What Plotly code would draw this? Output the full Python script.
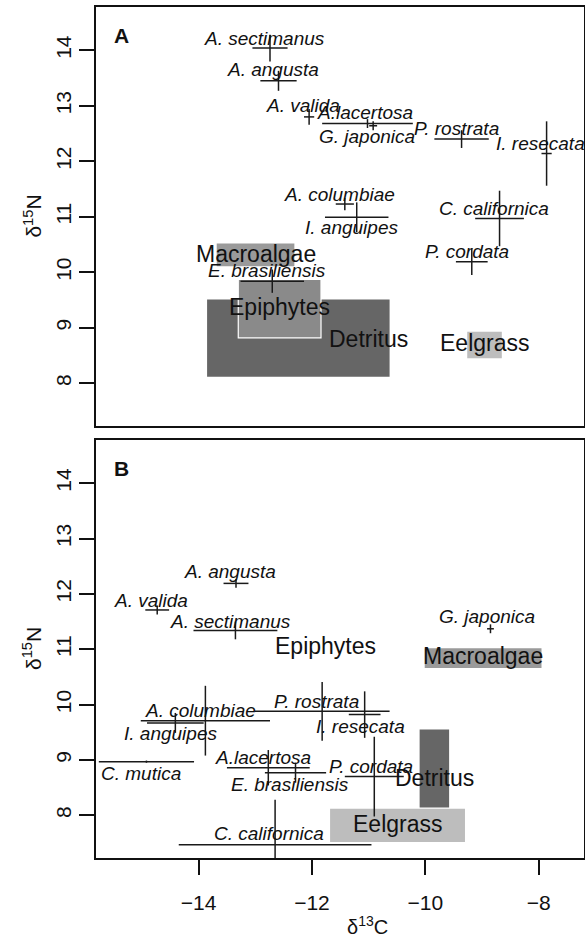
import plotly.graph_objects as go

# ---------------- data ----------------
# Panel A: consumers (mean d13C, sd d13C, mean d15N, sd d15N)
a_species = ["A. sectimanus", "A. angusta", "A. valida", "A.lacertosa", "G. japonica",
             "P. rostrata", "I. resecata", "A. columbiae", "I. anguipes",
             "C. californica", "P. cordata", "E. brasiliensis"]
a_c13 = [-12.74, -12.59, -12.05, -11.02, -10.92, -9.36, -7.86, -11.42, -11.21, -8.69, -9.18, -12.70]
a_c13_sd = [0.31, 0.32, 0.09, 0.80, 0.07, 0.48, 0.09, 0.16, 0.56, 0.43, 0.28, 0.56]
a_n15 = [14.04, 13.45, 12.80, 12.68, 12.64, 12.40, 12.14, 11.23, 10.99, 10.97, 10.19, 9.84]
a_n15_sd = [0.24, 0.18, 0.14, 0.08, 0.08, 0.16, 0.58, 0.11, 0.27, 0.50, 0.24, 0.21]
# label anchor (data coords)
a_lab_x = [-12.84, -12.68, -12.16, -11.07, -11.02, -9.45, -7.96, -11.52, -11.30, -8.78, -9.27, -12.80]
a_lab_y = [14.22, 13.65, 13.00, 12.88, 12.44, 12.59, 12.32, 11.41, 10.80, 11.15, 10.38, 10.03]

# Panel A: sources (ranges)
a_src = ["Macroalgae", "Detritus", "Epiphytes", "Eelgrass"]
a_src_c13_lo = [-13.68, -13.85, -13.30, -9.26]
a_src_c13_hi = [-12.31, -10.63, -11.84, -8.65]
a_src_n15_lo = [10.11, 8.12, 8.82, 8.45]
a_src_n15_hi = [10.52, 9.51, 9.87, 8.93]
a_src_lab_x = [-12.98, -11.00, -12.57, -8.96]
a_src_lab_y = [10.33, 8.79, 9.38, 8.72]

# Panel B: consumers
b_species = ["A. angusta", "A. valida", "A. sectimanus", "G. japonica", "A. columbiae",
             "I. anguipes", "P. rostrata", "I. resecata", "C. mutica", "A.lacertosa",
             "E. brasiliensis", "P. cordata", "C. californica"]
b_c13 = [-13.34, -14.73, -13.35, -8.85, -13.88, -14.41, -11.82, -11.07, -14.92, -12.77, -12.29, -10.90, -12.65]
b_c13_sd = [0.22, 0.21, 0.74, 0.06, 1.14, 0.50, 1.19, 0.28, 0.84, 0.73, 0.54, 0.52, 1.70]
b_n15 = [12.19, 11.71, 11.34, 11.37, 9.71, 9.67, 9.88, 9.82, 8.97, 8.86, 8.77, 8.70, 7.47]
b_n15_sd = [0.08, 0.08, 0.16, 0.08, 0.63, 0.18, 0.53, 0.42, 0.02, 0.32, 0.18, 0.72, 0.81]
b_lab_x = [-13.44, -14.84, -13.44, -8.92, -13.97, -14.50, -11.92, -11.15, -15.01, -12.87, -12.39, -10.96, -12.76]
b_lab_y = [12.40, 11.88, 11.50, 11.60, 9.90, 9.47, 10.06, 9.61, 8.75, 9.04, 8.55, 8.88, 7.67]

# Panel B: sources
b_src = ["Macroalgae", "Detritus", "Eelgrass", "Epiphytes"]
b_src_c13_lo = [-10.01, -10.10, -11.68, None]
b_src_c13_hi = [-7.95, -9.58, -9.30, None]
b_src_n15_lo = [10.66, 8.14, 7.52, None]
b_src_n15_hi = [11.02, 9.55, 8.12, None]
b_src_lab_x = [-8.98, -9.84, -10.49, -11.76]
b_src_lab_y = [10.87, 8.68, 7.84, 11.06]

y_ticks = [8, 9, 10, 11, 12, 13, 14]
x_ticks = [-14, -12, -10, -8]

# ---------------- styles ----------------
FONT = "Liberation Sans, Arial, Helvetica, sans-serif"
src_fill = {"Macroalgae": "#9a9a9a", "Detritus": "#666666", "Epiphytes": "#8a8a8a", "Eelgrass": "#bdbdbd"}
src_line = {"Macroalgae": None, "Detritus": None, "Epiphytes": "white", "Eelgrass": None}
LINE = "#1a1a1a"

fig = go.Figure()
shapes = []
annotations = []


def add_panel(xa, ya, species, c13, c13sd, n15, n15sd, labx, laby,
              src, slo_x, shi_x, slo_y, shi_y, slabx, slaby):
    for i, s in enumerate(src):
        if slo_x[i] is not None:
            ln = src_line[s]
            shapes.append(dict(type="rect", xref=xa, yref=ya,
                               x0=slo_x[i], x1=shi_x[i], y0=slo_y[i], y1=shi_y[i],
                               fillcolor=src_fill[s],
                               line=dict(color=ln if ln else src_fill[s], width=1.2 if ln else 0),
                               layer="below"))
    fig.add_trace(go.Scatter(
        x=c13, y=n15, mode="markers", xaxis=xa, yaxis=ya,
        marker=dict(size=1, color="rgba(0,0,0,0)"),
        error_x=dict(type="data", array=c13sd, color=LINE, thickness=1.5, width=0),
        error_y=dict(type="data", array=n15sd, color=LINE, thickness=1.5, width=0),
        showlegend=False, hoverinfo="skip", cliponaxis=True))
    for i, s in enumerate(species):
        annotations.append(dict(x=labx[i], y=laby[i], xref=xa, yref=ya, text="<i>%s</i>" % s,
                                showarrow=False, xanchor="center", yanchor="middle",
                                font=dict(family=FONT, size=19, color="#111111")))
    for i, s in enumerate(src):
        annotations.append(dict(x=slabx[i], y=slaby[i], xref=xa, yref=ya, text=s,
                                showarrow=False, xanchor="center", yanchor="middle",
                                font=dict(family=FONT, size=23, color="#111111")))


add_panel("x", "y", a_species, a_c13, a_c13_sd, a_n15, a_n15_sd, a_lab_x, a_lab_y,
          a_src, a_src_c13_lo, a_src_c13_hi, a_src_n15_lo, a_src_n15_hi, a_src_lab_x, a_src_lab_y)
add_panel("x2", "y2", b_species, b_c13, b_c13_sd, b_n15, b_n15_sd, b_lab_x, b_lab_y,
          b_src, b_src_c13_lo, b_src_c13_hi, b_src_n15_lo, b_src_n15_hi, b_src_lab_x, b_src_lab_y)

# panel letters
for lab, xr_, yr_ in [("A", "x domain", "y domain"), ("B", "x2 domain", "y2 domain")]:
    annotations.append(dict(x=0.052, y=0.932, xref=xr_, yref=yr_, text="<b>%s</b>" % lab,
                            showarrow=False, xanchor="center", yanchor="middle",
                            font=dict(family=FONT, size=21, color="#111111")))
# axis titles
for yr_ in ["y domain", "y2 domain"]:
    annotations.append(dict(x=-0.131, y=0.5, xref="paper", yref=yr_, text="δ<sup>15</sup>N",
                            showarrow=False, xanchor="center", yanchor="middle", textangle=-90,
                            font=dict(family=FONT, size=21, color="#111111")))
annotations.append(dict(x=-11.02, y=-0.0795, xref="x2", yref="paper", text="δ<sup>13</sup>C",
                        showarrow=False, xanchor="center", yanchor="middle",
                        font=dict(family=FONT, size=20, color="#111111")))

xr = [-15.81, -7.20]
yr = [7.23, 14.78]
ax_common = dict(showgrid=False, zeroline=False, showline=True, mirror=True,
                 linecolor="#111111", linewidth=1.5, automargin=False)
fig.update_layout(
    width=585, height=939,
    margin=dict(l=96, r=1, t=7, b=81, autoexpand=False),
    paper_bgcolor="white", plot_bgcolor="white",
    font=dict(family=FONT, size=21, color="#111111"),
    xaxis=dict(domain=[0, 1], anchor="y", range=xr, showticklabels=False, ticks="", **ax_common),
    yaxis=dict(domain=[0.5076, 1], anchor="x", range=yr, tickvals=y_ticks, tickangle=-90,
               ticks="outside", ticklen=15, tickwidth=1.5, tickcolor="#111111", **ax_common),
    xaxis2=dict(domain=[0, 1], anchor="y2", range=xr, tickvals=x_ticks,
                ticktext=["\u2212%d" % abs(v) for v in x_ticks], ticklabelstandoff=10,
                ticks="outside", ticklen=15, tickwidth=1.5, tickcolor="#111111", **ax_common),
    yaxis2=dict(domain=[0, 0.4912], anchor="x2", range=yr, tickvals=y_ticks, tickangle=-90,
                ticks="outside", ticklen=15, tickwidth=1.5, tickcolor="#111111", **ax_common),
    shapes=shapes, annotations=annotations,
)

fig.write_html("out.html", config={"displayModeBar": False},
               post_script="document.body.style.margin='0';document.body.style.overflow='hidden';")
